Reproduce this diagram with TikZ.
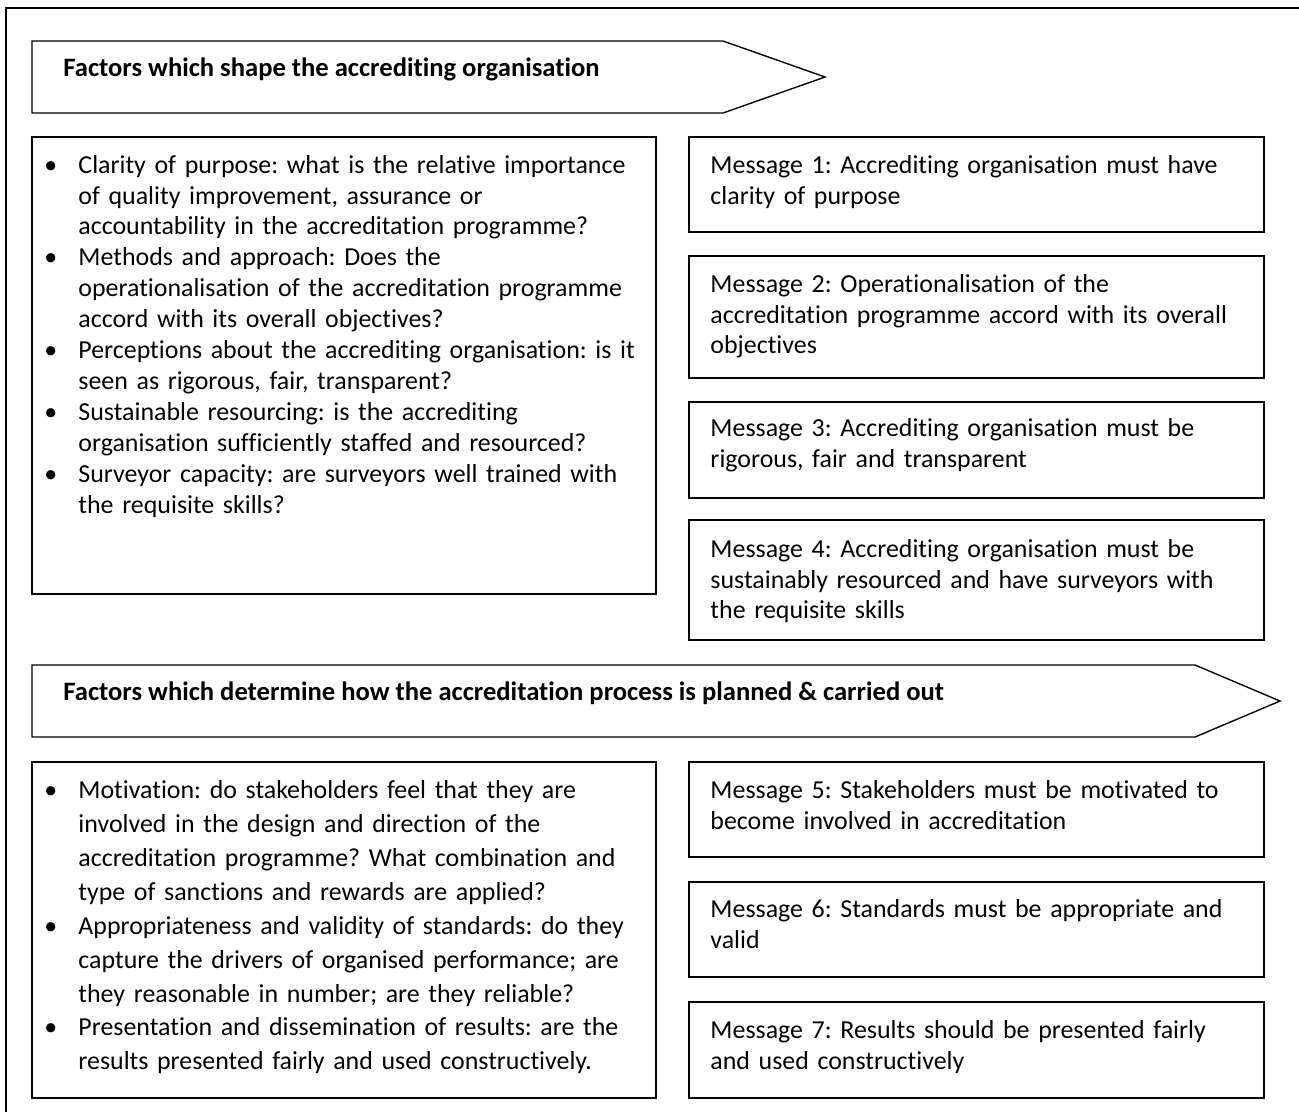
\documentclass[tikz,border=0pt]{standalone}
\usepackage{fontspec}
\setmainfont{Carlito}[Ligatures=NoCommon]
\usetikzlibrary{positioning}
\newcommand{\blt}{\noindent\hangindent=14.7pt\hangafter=1\makebox[14.7pt][l]{\textbullet}}

\begin{document}
\frenchspacing
\begin{tikzpicture}[x=0.0152cm, y=-0.0152cm,
  frame/.style={draw, line width=0.8pt},
  box/.style={draw, line width=0.6pt},
  banner/.style={draw, line width=0.6pt},
  txt/.style={anchor=base west, inner sep=0pt, align=left, font=\fontsize{11.2}{13.4}\selectfont},
  head/.style={txt, font=\fontsize{11.5}{13.4}\selectfont\bfseries},
  lst/.style={txt, text width=262pt},
  msg/.style={txt, text width=245pt}]
\useasboundingbox (0,0) rectangle (1299,1111);
\draw[frame] (6,8) rectangle (1330,1140);
\draw[banner] (32,41) -- (723,41) -- (825,77) -- (723,113) -- (32,113) -- cycle;
\node[head] (h1) at (63,76) {Factors which shape the accrediting organisation};
\draw[box] (32,137) rectangle (656,594);
\node[lst] (l1) at (44,173) {\blt Clarity of purpose: what is the relative importance\newline of quality improvement, assurance or\newline accountability in the accreditation programme?\par
  \blt Methods and approach: Does the\newline operationalisation of the accreditation programme\newline accord with its overall objectives?\par
  \blt Perceptions about the accrediting organisation: is it\newline seen as rigorous, fair, transparent?\par
  \blt Sustainable resourcing: is the accrediting\newline organisation sufficiently staffed and resourced?\par
  \blt Surveyor capacity: are surveyors well trained with\newline the requisite skills?\par};
\draw[box] (689,137) rectangle (1264,232);
\node[msg] (m1) at (710,173) {Message 1: Accrediting organisation must have\\ clarity of purpose};
\draw[box] (689,256) rectangle (1264,378);
\node[msg] (m2) at (710,292) {Message 2: Operationalisation of the\\ accreditation programme accord with its overall\\ objectives};
\draw[box] (689,402) rectangle (1264,498);
\node[msg] (m3) at (710,436) {Message 3: Accrediting organisation must be\\ rigorous, fair and transparent};
\draw[box] (689,520) rectangle (1264,640);
\node[msg] (m4) at (710,557) {Message 4: Accrediting organisation must be\\ sustainably resourced and have surveyors with\\ the requisite skills};
\draw[banner] (32,665) -- (1195,665) -- (1280,701) -- (1195,737) -- (32,737) -- cycle;
\node[head] (h2) at (63,700) {Factors which determine how the accreditation process is planned \& carried out};
\draw[box] (32,762) rectangle (656,1098);
\node[lst, font=\fontsize{11.2}{14.7}\selectfont] (l2) at (44,798) {\blt Motivation: do stakeholders feel that they are\newline involved in the design and direction of the\newline accreditation programme? What combination and\newline type of sanctions and rewards are applied?\par
  \blt Appropriateness and validity of standards: do they\newline capture the drivers of organised performance; are\newline they reasonable in number; are they reliable?\par
  \blt Presentation and dissemination of results: are the\newline results presented fairly and used constructively.\par};
\draw[box] (689,762) rectangle (1264,857);
\node[msg] (m5) at (710,798) {Message 5: Stakeholders must be motivated to\\ become involved in accreditation};
\draw[box] (689,882) rectangle (1264,977);
\node[msg] (m6) at (710,917) {Message 6: Standards must be appropriate and\\ valid};
\draw[box] (689,1002) rectangle (1264,1098);
\node[msg] (m7) at (710,1038) {Message 7: Results should be presented fairly\\ and used constructively};
\end{tikzpicture}
\end{document}
